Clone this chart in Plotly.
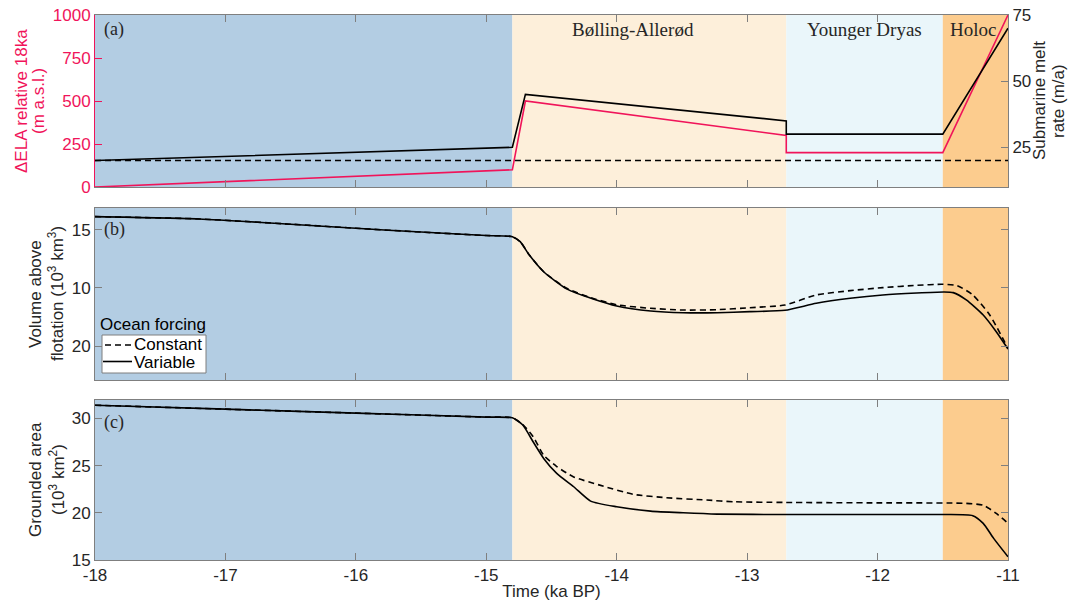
import plotly.graph_objects as go

# ---------------- data ----------------
period_names = ["", "Bølling-Allerød", "Younger Dryas", "Holoc"]
period_start = [-18.0, -14.8, -12.7, -11.5]
period_end = [-14.8, -12.7, -11.5, -11.0]
period_colors = ["#b3cde3", "#fdefda", "#eaf6fa", "#fccc8e"]

# (a) forcing
t_forcing = [-18.0, -14.8, -14.7, -12.7, -12.7, -11.5, -11.0]
ela = [0, 100, 500, 300, 200, 200, 1000]
melt_variable = [20, 25, 45, 35, 30, 30, 70]
t_const = [-18.0, -11.0]
melt_constant = [20, 20]

# (b) volume above flotation
t_vol_var = [-18.0, -17.2, -16.5, -16.0, -15.5, -15.0, -14.8, -14.74, -14.67, -14.56,
             -14.38, -14.18, -14.0, -13.74, -13.49, -13.23, -12.98, -12.71, -12.47,
             -12.21, -11.96, -11.70, -11.49, -11.42, -11.32, -11.19, -11.09, -11.0]
vol_var = [16.15, 15.95, 15.5, 15.15, 14.82, 14.52, 14.42, 13.99, 12.84, 11.4,
           9.9, 9.05, 8.45, 8.02, 7.87, 7.87, 7.96, 8.08, 8.68,
           9.11, 9.4, 9.57, 9.66, 9.6, 8.97, 7.67, 6.23, 4.74]
t_vol_con = [-18.0, -17.2, -16.5, -16.0, -15.5, -15.0, -14.8, -14.74, -14.67, -14.56,
             -14.38, -14.18, -14.0, -13.74, -13.49, -13.23, -12.98, -12.71, -12.47,
             -12.21, -11.96, -11.70, -11.5, -11.39, -11.27, -11.14, -11.0]
vol_con = [16.15, 15.95, 15.5, 15.15, 14.82, 14.52, 14.42, 13.99, 12.84, 11.4,
           9.95, 9.1, 8.55, 8.25, 8.1, 8.13, 8.3, 8.53, 9.4,
           9.77, 10.03, 10.23, 10.32, 10.2, 9.4, 7.67, 4.8]

# (c) grounded area
t_area_var = [-18.0, -17.0, -16.0, -15.0, -14.8, -14.72, -14.64, -14.56, -14.46, -14.33,
              -14.2, -14.0, -13.74, -13.49, -13.23, -12.7, -12.0, -11.5, -11.27,
              -11.19, -11.11, -11.0]
area_var = [31.4, 30.98, 30.56, 30.14, 30.06, 29.3, 27.5, 25.76, 24.17, 22.76,
            21.24, 20.64, 20.18, 20.0, 19.86, 19.82, 19.82, 19.82, 19.7,
            18.88, 17.29, 15.34]
t_area_con = [-18.0, -17.0, -16.0, -15.0, -14.8, -14.72, -14.64, -14.56, -14.46, -14.33,
              -14.13, -13.87, -13.62, -13.31, -13.1, -12.72, -12.0, -11.32, -11.19,
              -11.09, -11.0]
area_con = [31.4, 30.98, 30.56, 30.14, 30.06, 29.35, 28.05, 26.1, 24.9, 23.8,
            22.93, 21.95, 21.6, 21.35, 21.17, 21.1, 21.05, 21.0, 20.8,
            19.94, 18.88]

x_ticks = [-18, -17, -16, -15, -14, -13, -12, -11]
x_ticktext = ["-18", "-17", "-16", "-15", "-14", "-13", "-12", "-11"]
ela_ticks = [0, 250, 500, 750, 1000]
melt_ticks = [25, 50, 75]
vol_tickvals = [5, 10, 15]
vol_ticktext = ["20", "10", "15"]
area_ticks = [15, 20, 25, 30]
legend_names = ["Constant", "Variable"]

# ---------------- layout helpers (window pixel -> paper) ----------------
W, H = 1070, 601
PLOT_L, PLOT_R, PLOT_T, PLOT_B = 95, 1008, 15, 560   # plot area in pixels
ML, MT = PLOT_L, PLOT_T
MR = W - PLOT_R
MB = H - PLOT_B
PW, PH = PLOT_R - PLOT_L, PLOT_B - PLOT_T


def px(xp):
    return (xp - PLOT_L) / PW


def py(yp):
    return (PLOT_B - yp) / PH


RED = "#f0145a"
TXT = "#262626"
GRID = "#7f7f7f"
SANS = "Liberation Sans, Arial, sans-serif"
SERIF = "Liberation Serif, Times New Roman, serif"
DASH = "6px,4px"

fig = go.Figure()

# panel a
fig.add_trace(go.Scatter(x=t_forcing, y=ela, mode="lines", line=dict(color=RED, width=1.6),
                         xaxis="x3", yaxis="y3", showlegend=False))
fig.add_trace(go.Scatter(x=t_const, y=melt_constant, mode="lines",
                         line=dict(color="black", width=1.6, dash=DASH),
                         xaxis="x3", yaxis="y4", showlegend=False))
fig.add_trace(go.Scatter(x=t_forcing, y=melt_variable, mode="lines",
                         line=dict(color="black", width=1.6),
                         xaxis="x3", yaxis="y4", showlegend=False))

# panel b
fig.add_trace(go.Scatter(x=t_vol_con, y=vol_con, mode="lines", name=legend_names[0],
                         line=dict(color="black", width=1.6, dash=DASH, shape="spline", smoothing=0.6),
                         xaxis="x2", yaxis="y2", showlegend=False))
fig.add_trace(go.Scatter(x=t_vol_var, y=vol_var, mode="lines", name=legend_names[1],
                         line=dict(color="black", width=1.6, shape="spline", smoothing=0.6),
                         xaxis="x2", yaxis="y2", showlegend=False))

# panel c
fig.add_trace(go.Scatter(x=t_area_con, y=area_con, mode="lines", name=legend_names[0],
                         line=dict(color="black", width=1.6, dash=DASH, shape="spline", smoothing=0.6),
                         xaxis="x", yaxis="y", showlegend=False))
fig.add_trace(go.Scatter(x=t_area_var, y=area_var, mode="lines", name=legend_names[1],
                         line=dict(color="black", width=1.6, shape="spline", smoothing=0.6),
                         xaxis="x", yaxis="y", showlegend=False))

# background period shading
shapes = []
for xr, yr in [("x3", "y3 domain"), ("x2", "y2 domain"), ("x", "y domain")]:
    for s, e, c in zip(period_start, period_end, period_colors):
        shapes.append(dict(type="rect", xref=xr, yref=yr, x0=s, x1=e, y0=0, y1=1,
                           fillcolor=c, line=dict(width=0), layer="below"))

# legend (compact, MATLAB style) in panel b
shapes.append(dict(type="rect", xref="paper", yref="paper", x0=px(102), x1=px(206),
                   y0=py(373), y1=py(335), fillcolor="white",
                   line=dict(color=GRID, width=1), layer="above"))
shapes.append(dict(type="line", xref="paper", yref="paper", x0=px(105), x1=px(131),
                   y0=py(345), y1=py(345), line=dict(color="black", width=1.6, dash="6px,4px")))
shapes.append(dict(type="line", xref="paper", yref="paper", x0=px(103), x1=px(132),
                   y0=py(361.5), y1=py(361.5), line=dict(color="black", width=1.6)))

annotations = []
label_x = {"Bølling-Allerød": -13.875, "Younger Dryas": -12.1, "Holoc": -11.27}
for n in period_names:
    if n:
        annotations.append(dict(text=n, x=label_x[n], xref="x3", y=py(30), yref="paper",
                                showarrow=False, font=dict(family=SERIF, size=19, color=TXT),
                                xanchor="center", yanchor="middle"))
for lab, yy in [("(a)", 30), ("(b)", 230), ("(c)", 422)]:
    annotations.append(dict(text=lab, x=px(102), xref="paper", y=py(yy), yref="paper",
                            showarrow=False, font=dict(family=SERIF, size=18, color=TXT),
                            xanchor="left", yanchor="middle"))
annotations.append(dict(text="Ocean forcing", x=px(98), xref="paper", y=py(324), yref="paper",
                        showarrow=False, font=dict(family=SANS, size=17, color="black"),
                        xanchor="left", yanchor="middle"))
for name, yy in zip(legend_names, [345, 362]):
    annotations.append(dict(text=name, x=px(132), xref="paper", y=py(yy), yref="paper",
                            showarrow=False, font=dict(family=SANS, size=17, color="black"),
                            xanchor="left", yanchor="middle"))

# y-axis titles (rotated text)
ytitles = [
    ("ΔELA relative 18ka", 21, 101, RED),
    ("(m a.s.l.)", 38, 101, RED),
    ("Volume above", 35, 294, TXT),
    ("flotation (10<sup>3</sup> km<sup>3</sup>)", 56, 294, TXT),
    ("Grounded area", 35, 480, TXT),
    ("(10<sup>3</sup> km<sup>2</sup>)", 57, 480, TXT),
    ("Submarine melt", 1039, 101, TXT),
    ("rate (m/a)", 1058, 101, TXT),
]
for txt, xx, yy, col in ytitles:
    annotations.append(dict(text=txt, x=px(xx), xref="paper", y=py(yy), yref="paper",
                            showarrow=False, textangle=-90,
                            font=dict(family=SANS, size=17, color=col),
                            xanchor="center", yanchor="middle"))

xcommon = dict(range=[-18, -11], tickvals=x_ticks, ticks="inside", ticklen=7, tickcolor=GRID,
               showline=True, linecolor=GRID, linewidth=1, mirror="ticks", showgrid=False,
               zeroline=False, domain=[0, 1], automargin=False)
ycommon = dict(ticks="inside", ticklen=7, tickcolor=GRID, showline=True, linecolor=GRID,
               linewidth=1, mirror="ticks", showgrid=False, zeroline=False, automargin=False,
               ticklabeloverflow="allow",
               tickfont=dict(family=SANS, size=17, color=TXT))

fig.update_layout(
    width=W, height=H,
    margin=dict(l=ML, r=MR, t=MT, b=MB, pad=0),
    paper_bgcolor="white", plot_bgcolor="white",
    font=dict(family=SANS, size=17, color=TXT),
    shapes=shapes, annotations=annotations, showlegend=False,
    xaxis=dict(**xcommon, anchor="y", ticktext=x_ticktext, ticklabeloverflow="allow",
               tickfont=dict(family=SANS, size=17, color=TXT),
               title=dict(text="Time (ka BP)", standoff=0, font=dict(family=SANS, size=17, color=TXT))),
    xaxis2=dict(**xcommon, anchor="y2", matches="x", showticklabels=False),
    xaxis3=dict(**xcommon, anchor="y3", matches="x", showticklabels=False),
    yaxis=dict(**ycommon, domain=[0, py(400)], range=[15, 31.95], tickvals=area_ticks, anchor="x"),
    yaxis2=dict(**ycommon, domain=[py(380), py(207.7)], range=[2.07, 16.92], tickvals=vol_tickvals,
                ticktext=vol_ticktext, anchor="x2"),
    yaxis3=dict(domain=[py(187), 1], range=[0, 1000], tickvals=ela_ticks, anchor="x3",
                ticks="inside", ticklen=7, tickcolor=RED, showline=True, linecolor=RED,
                linewidth=1, showgrid=False, zeroline=False, automargin=False,
                ticklabeloverflow="allow",
                tickfont=dict(family=SANS, size=17, color=RED)),
    yaxis4=dict(overlaying="y3", side="right", anchor="x3", range=[10, 75], tickvals=melt_ticks,
                ticks="inside", ticklen=7, tickcolor=GRID, showline=True, linecolor=GRID,
                linewidth=1, showgrid=False, zeroline=False, automargin=False,
                ticklabeloverflow="allow",
                tickfont=dict(family=SANS, size=17, color=TXT)),
)

fig.write_html("out.html", config={"displayModeBar": False},
               post_script="document.body.style.margin='0';document.body.style.padding='0';")
